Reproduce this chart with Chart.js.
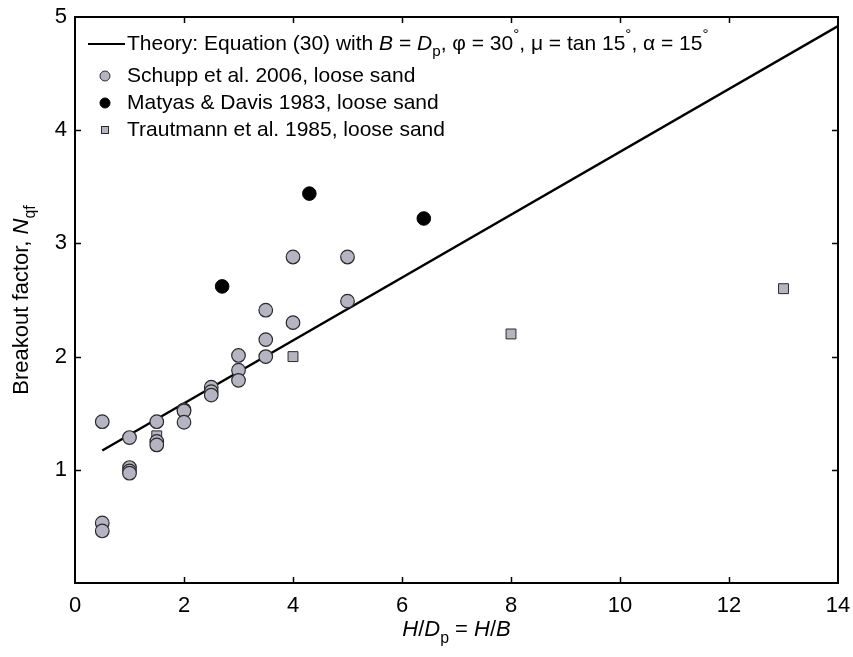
<!DOCTYPE html>
<html>
<head>
<meta charset="utf-8">
<script src="https://cdn.jsdelivr.net/npm/chart.js@4/dist/chart.umd.min.js"></script>
<style>
html,body{margin:0;padding:0;background:#fff;}
#wrap{width:853px;height:657px;position:relative;}
</style>
</head>
<body>
<div id="wrap"><canvas id="c"></canvas></div>
<script>
// ---- data ----
const theoryX = [0.5, 14];
const theoryY = [1.17, 4.92];
const schuppX = [0.5, 0.5, 0.5, 1, 1, 1, 1, 1.5, 1.5, 1.5, 2, 2, 2, 2.5, 2.5, 2.5, 3, 3, 3, 3.5, 3.5, 3.5, 4, 4, 5, 5];
const schuppY = [1.425, 0.53, 0.46, 1.285, 1.02, 0.99, 0.97, 1.425, 1.25, 1.22, 1.53, 1.52, 1.42, 1.73, 1.69, 1.66, 2.01, 1.88, 1.79, 2.41, 2.15, 2.00, 2.88, 2.30, 2.88, 2.49];
const matyasX = [2.7, 4.3, 6.4];
const matyasY = [2.62, 3.44, 3.22];
const trautX = [1.5, 4, 8, 13];
const trautY = [1.30, 2.00, 2.20, 2.60];
const xTicks = [0, 2, 4, 6, 8, 10, 12, 14];
const yTicks = [1, 2, 3, 4, 5];
const legendLabels = [
  [["Theory: Equation (30) with ", "n"], ["B", "i"], [" = ", "n"], ["D", "i"], ["p", "sub"], [", \u03C6 = 30", "n"], ["\u00B0", "sup"], [", \u03BC = tan 15", "n"], ["\u00B0", "sup"], [", \u03B1 = 15", "n"], ["\u00B0", "sup"]],
  [["Schupp et al. 2006, loose sand", "n"]],
  [["Matyas & Davis 1983, loose sand", "n"]],
  [["Trautmann et al. 1985, loose sand", "n"]]
];
const xTitle = [["H", "i"], ["/", "n"], ["D", "i"], ["p", "sub"], [" = ", "n"], ["H", "i"], ["/", "n"], ["B", "i"]];
const yTitle = [["Breakout factor, ", "n"], ["N", "i"], ["qf", "sub"]];

const FAM = "'Liberation Sans', Arial, sans-serif";
const GRAY = '#b4b4c2';
const EDGE = '#2a2a2a';

function pts(xs, ys) { return xs.map((x, i) => ({x: x, y: ys[i]})); }

function richWidth(ctx, segs, size) {
  let w = 0;
  for (const [t, s] of segs) {
    const fs = (s === 'sub' || s === 'sup') ? size * 0.72 : size;
    ctx.font = (s === 'i' ? 'italic ' : '') + fs + 'px ' + FAM;
    w += ctx.measureText(t).width;
  }
  return w;
}
function drawRich(ctx, segs, x, y, size) {
  ctx.textBaseline = 'middle';
  ctx.textAlign = 'left';
  ctx.fillStyle = '#000';
  let cx = x;
  for (const [t, s] of segs) {
    let fs = size, dy = 0;
    if (s === 'sub') { fs = size * 0.72; dy = size * 0.38; }
    if (s === 'sup') { fs = size * 0.72; dy = -size * 0.45; }
    ctx.font = (s === 'i' ? 'italic ' : '') + fs + 'px ' + FAM;
    ctx.fillText(t, cx, y + dy);
    cx += ctx.measureText(t).width;
  }
}

const decor = {
  id: 'decor',
  afterDraw(chart) {
    const ctx = chart.ctx;
    const a = chart.chartArea;
    const xs = chart.scales.x, ys = chart.scales.y;
    ctx.save();
    // box
    ctx.strokeStyle = '#000';
    ctx.lineWidth = 2;
    ctx.strokeRect(a.left, a.top, a.right - a.left, a.bottom - a.top);
    // inward ticks
    ctx.lineWidth = 1.5;
    ctx.beginPath();
    xTicks.forEach(v => {
      if (v === 0 || v === 14) return;
      const px = Math.round(xs.getPixelForValue(v)) + 0.5;
      ctx.moveTo(px, a.bottom); ctx.lineTo(px, a.bottom - 6);
      ctx.moveTo(px, a.top); ctx.lineTo(px, a.top + 6);
    });
    yTicks.forEach(v => {
      if (v === 5) return;
      const py = Math.round(ys.getPixelForValue(v)) + 0.5;
      ctx.moveTo(a.left, py); ctx.lineTo(a.left + 6, py);
      ctx.moveTo(a.right, py); ctx.lineTo(a.right - 6, py);
    });
    ctx.stroke();

    // legend
    const size = 21;
    const lx = 88, tx = 127;
    const rows = [44, 76, 103, 130];
    ctx.lineWidth = 2.2;
    ctx.strokeStyle = '#000';
    ctx.beginPath(); ctx.moveTo(lx, rows[0]); ctx.lineTo(125, rows[0]); ctx.stroke();
    ctx.lineWidth = 1;
    ctx.fillStyle = GRAY; ctx.strokeStyle = EDGE;
    ctx.beginPath(); ctx.arc(105, rows[1], 5, 0, Math.PI * 2); ctx.fill(); ctx.stroke();
    ctx.fillStyle = '#000'; ctx.strokeStyle = '#000';
    ctx.beginPath(); ctx.arc(105, rows[2], 5, 0, Math.PI * 2); ctx.fill(); ctx.stroke();
    ctx.fillStyle = GRAY; ctx.strokeStyle = EDGE;
    ctx.fillRect(101.5, rows[3] - 3.5, 7, 7); ctx.strokeRect(101.5, rows[3] - 3.5, 7, 7);
    legendLabels.forEach((segs, i) => drawRich(ctx, segs, tx, rows[i], size));

    // axis titles
    const ts = 22;
    const xw = richWidth(ctx, xTitle, ts);
    drawRich(ctx, xTitle, (a.left + a.right) / 2 - xw / 2, 630, ts);
    ctx.translate(22, (a.top + a.bottom) / 2);
    ctx.rotate(-Math.PI / 2);
    const yw = richWidth(ctx, yTitle, ts);
    drawRich(ctx, yTitle, -yw / 2, 0, ts);
    ctx.restore();
  }
};

new Chart(document.getElementById('c'), {
  type: 'scatter',
  data: {
    datasets: [
      { label: 'Theory', type: 'line', data: pts(theoryX, theoryY), borderColor: '#000', borderWidth: 2.4, pointRadius: 0, fill: false, order: 4 },
      { label: 'Trautmann et al. 1985, loose sand', data: pts(trautX, trautY), pointStyle: 'rect', pointRadius: 7, backgroundColor: GRAY, borderColor: EDGE, borderWidth: 1, order: 3 },
      { label: 'Schupp et al. 2006, loose sand', data: pts(schuppX, schuppY), pointStyle: 'circle', pointRadius: 6.8, backgroundColor: GRAY, borderColor: EDGE, borderWidth: 1.2, order: 2 },
      { label: 'Matyas & Davis 1983, loose sand', data: pts(matyasX, matyasY), pointStyle: 'circle', pointRadius: 6.8, backgroundColor: '#000', borderColor: '#000', borderWidth: 1, order: 1 }
    ]
  },
  options: {
    responsive: true,
    maintainAspectRatio: false,
    animation: false,
    devicePixelRatio: 1,
    layout: { padding: { top: 17, right: 15, left: 0, bottom: 0 } },
    plugins: { legend: { display: false }, tooltip: { enabled: false } },
    scales: {
      x: {
        type: 'linear', min: 0, max: 14,
        afterBuildTicks(s) { s.ticks = xTicks.map(v => ({value: v})); },
        afterFit(s) { s.height = 74; s.paddingLeft = 0; s.paddingRight = 0; },
        grid: { display: false, drawTicks: false },
        border: { display: false },
        ticks: { color: '#000', font: { size: 22, family: FAM }, padding: 10, maxRotation: 0, autoSkip: false }
      },
      y: {
        type: 'linear', min: 0, max: 5,
        afterBuildTicks(s) { s.ticks = yTicks.map(v => ({value: v})); },
        afterFit(s) { s.width = 75; s.paddingTop = 0; s.paddingBottom = 0; },
        grid: { display: false, drawTicks: false },
        border: { display: false },
        ticks: { color: '#000', font: { size: 22, family: FAM }, padding: 8, autoSkip: false }
      }
    }
  },
  plugins: [decor]
});
</script>
</body>
</html>
